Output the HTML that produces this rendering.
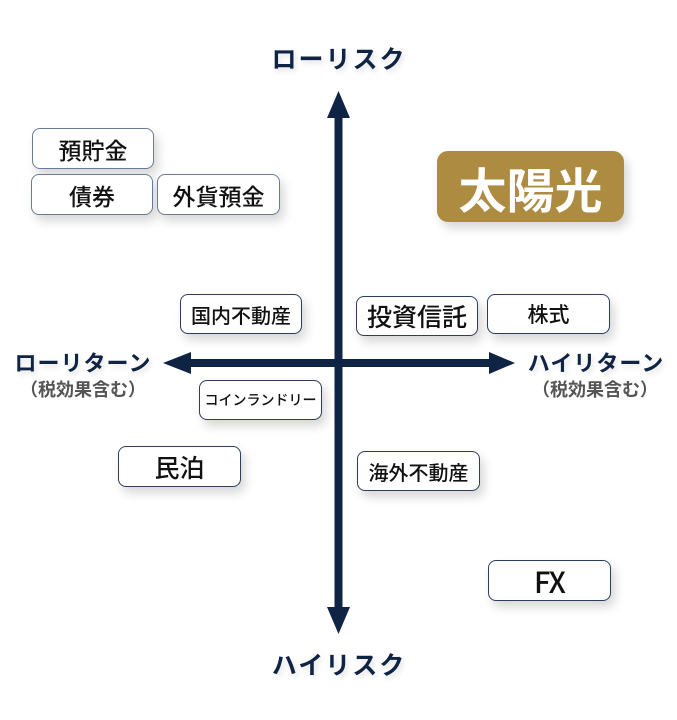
<!DOCTYPE html>
<html>
<head>
<meta charset="utf-8">
<style>
html,body{margin:0;padding:0;background:#fff;}
body{width:677px;height:720px;position:relative;overflow:hidden;font-family:"Liberation Sans","Noto Sans CJK JP",sans-serif;}
.box{position:absolute;box-sizing:border-box;background:#fff;border:1.5px solid #2c3e5c;border-radius:8px;box-shadow:4px 6px 10px rgba(0,0,0,0.16);display:flex;align-items:center;justify-content:center;color:#111;font-family:"Noto Sans CJK JP",sans-serif;font-weight:500;white-space:nowrap;}
.lt{border-color:#6b7b93;}
.lbl{position:absolute;font-family:"Noto Sans CJK JP",sans-serif;font-weight:700;color:#0f2444;white-space:nowrap;text-align:center;text-shadow:2px 3px 6px rgba(0,0,0,0.12);}
.sub{position:absolute;font-family:"Noto Sans CJK JP",sans-serif;font-weight:700;color:#555;white-space:nowrap;text-align:center;}
svg{position:absolute;left:0;top:0;}
</style>
</head>
<body>
<svg width="677" height="720" viewBox="0 0 677 720">
  <rect x="334.5" y="116" width="8" height="494" fill="#0f2444"/>
  <polygon points="338.5,91 327,118 350,118" fill="#0f2444"/>
  <polygon points="338.5,634 327,607 350,607" fill="#0f2444"/>
  <rect x="189" y="359" width="302" height="8" fill="#0f2444"/>
  <polygon points="163,363 191,352 191,374" fill="#0f2444"/>
  <polygon points="515,363 489,352 489,374" fill="#0f2444"/>
</svg>

<div class="lbl" style="left:262px;top:42px;width:154px;font-size:25px;line-height:32px;letter-spacing:2px;">ローリスク</div>
<div class="lbl" style="left:262px;top:648px;width:154px;font-size:25px;line-height:32px;letter-spacing:2px;">ハイリスク</div>

<div class="lbl" style="left:6px;top:348px;width:154px;font-size:22px;line-height:28px;letter-spacing:1px;">ローリターン</div>
<div class="sub" style="left:3px;top:377px;width:160px;font-size:18px;line-height:24px;">（税効果含む）</div>

<div class="lbl" style="left:519px;top:348px;width:154px;font-size:22px;line-height:28px;letter-spacing:1px;">ハイリターン</div>
<div class="sub" style="left:515px;top:377px;width:160px;font-size:18px;line-height:24px;">（税効果含む）</div>

<div class="box lt" style="left:32px;top:128px;width:122px;height:41px;font-size:23px;">預貯金</div>
<div class="box lt" style="left:31px;top:174px;width:122px;height:41px;font-size:23px;">債券</div>
<div class="box lt" style="left:157px;top:174px;width:123px;height:41px;font-size:23px;">外貨預金</div>

<div class="box" style="left:437px;top:151px;width:187px;height:71px;background:#ad8c42;border-color:#ad8c42;border-radius:11px;color:#fff;font-weight:700;font-size:48px;">太陽光</div>

<div class="box" style="left:180px;top:294px;width:122px;height:40px;font-size:20px;">国内不動産</div>
<div class="box" style="left:356px;top:296px;width:122px;height:40px;font-size:25px;">投資信託</div>
<div class="box" style="left:487px;top:294px;width:123px;height:40px;font-size:21px;">株式</div>

<div class="box" style="left:199px;top:380px;width:123px;height:40px;font-size:14px;">コインランドリー</div>
<div class="box" style="left:118px;top:446px;width:123px;height:41px;font-size:25px;">民泊</div>
<div class="box" style="left:357px;top:451px;width:123px;height:40px;font-size:20px;">海外不動産</div>
<div class="box" style="left:488px;top:560px;width:123px;height:41px;font-size:29px;letter-spacing:-1px;">FX</div>
</body>
</html>
